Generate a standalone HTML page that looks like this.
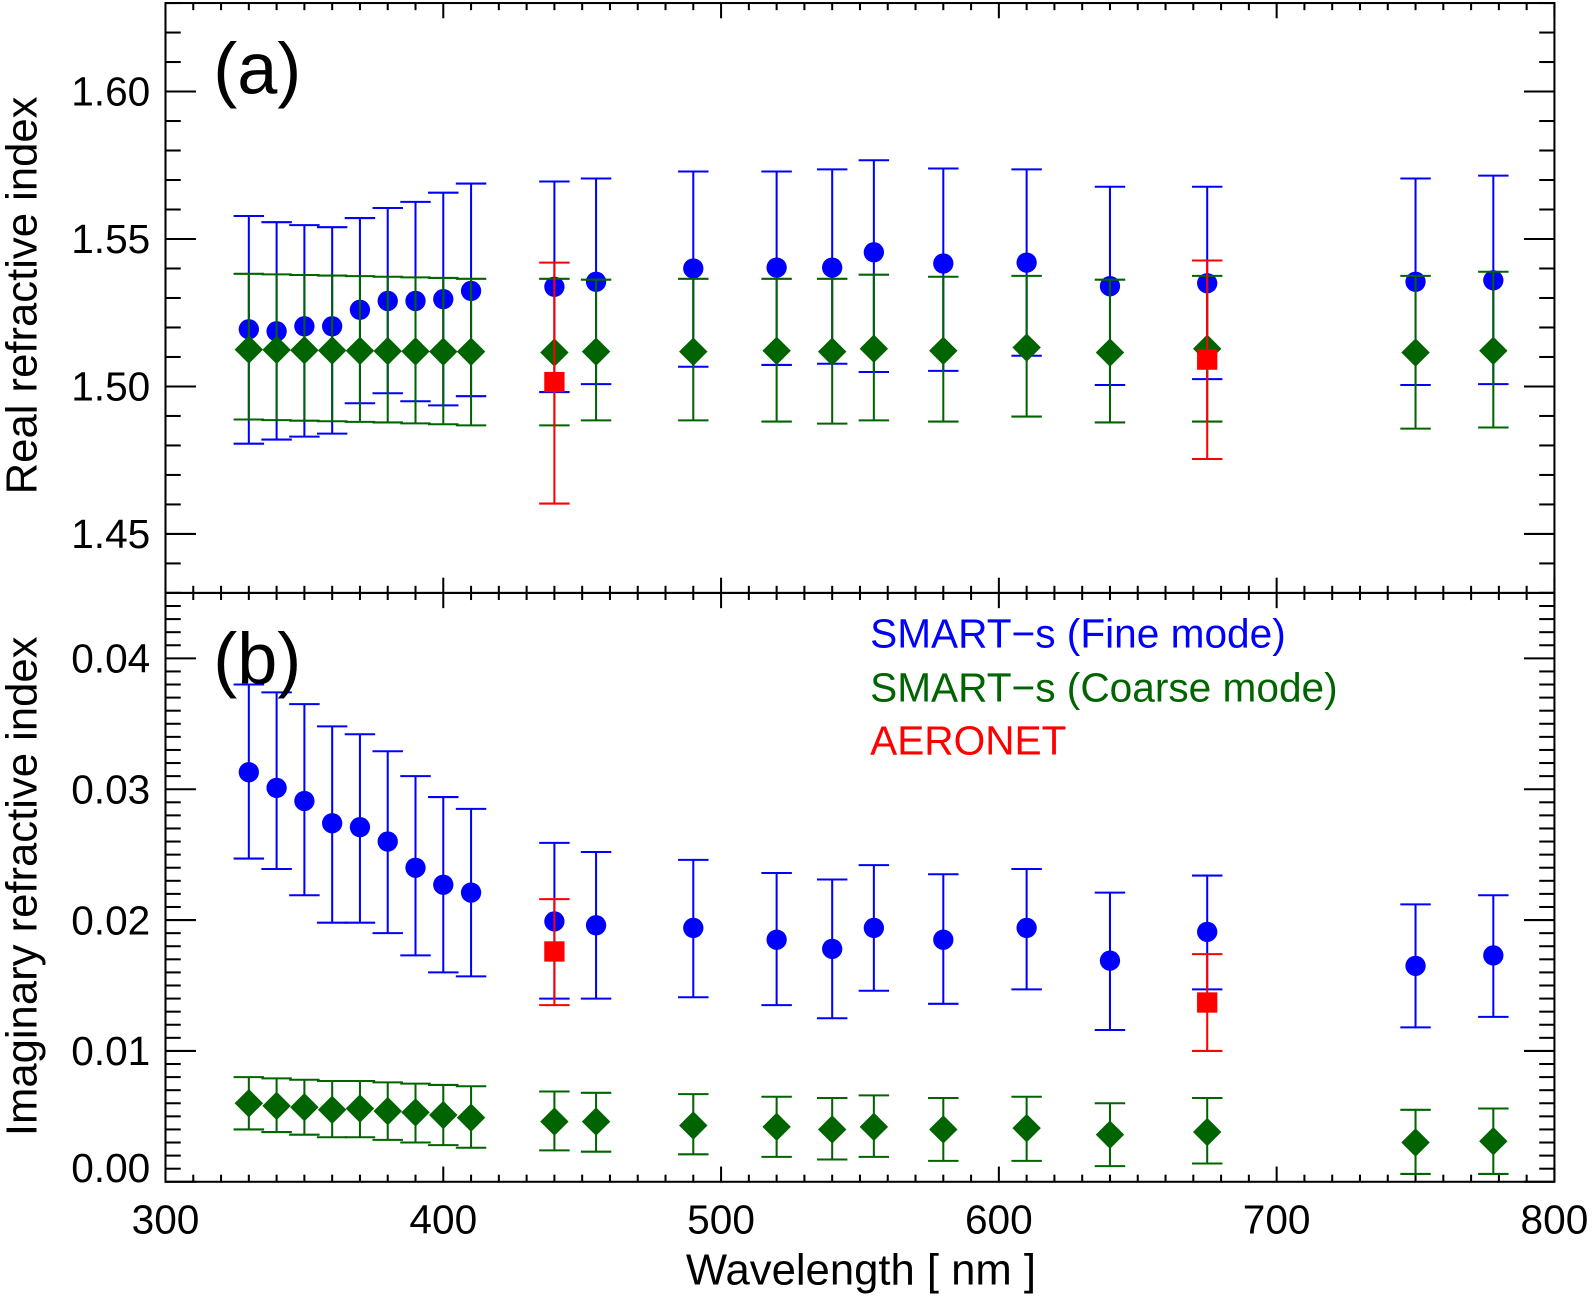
<!DOCTYPE html>
<html><head><meta charset="utf-8"><style>
html,body{margin:0;padding:0;background:#fff;}
svg{display:block;font-family:"Liberation Sans",Arial,sans-serif;}
</style></head><body>
<svg id="chart" width="1592" height="1296" viewBox="0 0 1568 1276.5" preserveAspectRatio="none" xmlns="http://www.w3.org/2000/svg"></svg>
<script>
const wl = [330,340,350,360,370,380,390,400,410,440,455,490,520,540,555,580,610,640,675,750,778];
// Panel (a) real refractive index
const fineReal   = [1.5194,1.5187,1.5204,1.5204,1.526,1.529,1.529,1.5296,1.5324,1.5338,1.5355,1.54,1.5403,1.5403,1.5455,1.5417,1.542,1.534,1.535,1.5355,1.536];
const fineRealHi = [1.5578,1.5557,1.5547,1.5540,1.5571,1.5605,1.5626,1.5657,1.5688,1.5695,1.5705,1.5729,1.5729,1.5736,1.5767,1.5739,1.5736,1.5677,1.5677,1.5705,1.5715];
const fineRealLo = [1.4806,1.4820,1.4830,1.4840,1.4943,1.4977,1.4950,1.4936,1.4967,1.4981,1.5008,1.5067,1.5073,1.5077,1.5049,1.5053,1.5104,1.5005,1.5025,1.5005,1.5008];
const coarseReal   = [1.5125,1.5124,1.5123,1.5122,1.5121,1.5120,1.5119,1.5118,1.5118,1.5115,1.5118,1.5118,1.5121,1.5118,1.5128,1.5121,1.5132,1.5115,1.5128,1.5115,1.5121];
const coarseRealHi = [1.5382,1.5380,1.5378,1.5376,1.5374,1.5372,1.5370,1.5368,1.5365,1.5365,1.5362,1.5365,1.5365,1.5365,1.5379,1.5372,1.5375,1.5362,1.5375,1.5375,1.5389];
const coarseRealLo = [1.4888,1.4886,1.4884,1.4882,1.4880,1.4878,1.4875,1.4872,1.4868,1.4868,1.4885,1.4885,1.4881,1.4874,1.4885,1.4881,1.4898,1.4878,1.4881,1.4857,1.4861];
const aeroWl = [440,675];
const aeroReal   = [1.5015,1.5091];
const aeroRealHi = [1.5420,1.5427];
const aeroRealLo = [1.4603,1.4754];
// Panel (b) imaginary refractive index
const fineImag   = [0.0313,0.0301,0.0291,0.0274,0.0271,0.0260,0.0240,0.0227,0.0221,0.0199,0.0196,0.0194,0.0185,0.0178,0.0194,0.0185,0.0194,0.0169,0.0191,0.0165,0.0173];
const fineImagHi = [0.0380,0.0374,0.0365,0.0348,0.0342,0.0329,0.0310,0.0294,0.0285,0.0259,0.0252,0.0246,0.0236,0.0231,0.0242,0.0235,0.0239,0.0221,0.0234,0.0212,0.0219];
const fineImagLo = [0.0247,0.0239,0.0219,0.0198,0.0198,0.0190,0.0173,0.0160,0.0157,0.0140,0.0140,0.0141,0.0135,0.0125,0.0146,0.0136,0.0147,0.0116,0.0147,0.0118,0.0126];
const coarseImag   = [0.0060,0.0058,0.0057,0.0055,0.0056,0.0054,0.0053,0.0051,0.0049,0.0046,0.0046,0.0043,0.0042,0.0040,0.0042,0.0040,0.0041,0.0036,0.0038,0.0030,0.0031];
const coarseImagHi = [0.0080,0.0079,0.0078,0.0077,0.0077,0.0076,0.0075,0.0074,0.0073,0.0069,0.0068,0.0067,0.0065,0.0064,0.0066,0.0064,0.0065,0.0060,0.0064,0.0055,0.0056];
const coarseImagLo = [0.0040,0.0038,0.0036,0.0034,0.0034,0.0032,0.0030,0.0028,0.0026,0.0024,0.0023,0.0021,0.0019,0.0017,0.0019,0.0016,0.0016,0.0012,0.0014,0.0006,0.0006];
const aeroImag   = [0.0176,0.0137];
const aeroImagHi = [0.0216,0.0174];
const aeroImagLo = [0.0135,0.0100];
const xTicks = [300,400,500,600,700,800];
const yTicksA = [1.45,1.50,1.55,1.60];
const yTicksB = [0.00,0.01,0.02,0.03,0.04];

const NS="http://www.w3.org/2000/svg";
const svg=document.getElementById('chart');
const L=163,R=1531;
const X=v=>L+(v-300)/500*(R-L);
const aTop=3,aBot=584,bTop=584,bBot=1164;
const YA=v=>aBot-(v-1.43)/0.20*(aBot-aTop);
const YB=v=>bBot-(v-0)/0.045*(bBot-bTop);
function el(tag,attrs,parent){const e=document.createElementNS(NS,tag);for(const k in attrs)e.setAttribute(k,attrs[k]);(parent||svg).appendChild(e);return e;}
function txt(s,attrs,parent){const t=el('text',attrs,parent);t.textContent=s;return t;}

function axes(top,bot,Y,y0,y1,minStep,majors,fmt,name,showX){
  const g=el('g',{});
  
  
  el('rect',{x:L,y:top,width:R-L,height:bot-top,fill:'none',stroke:'#000','stroke-width':2},g);
  for(let v=300;v<=800.001;v+=10){
    const maj=Math.abs(v%100)<0.01;const len=maj?15:7;const x=X(v);
    el('line',{x1:x,y1:bot,x2:x,y2:bot-len,stroke:'#000','stroke-width':2},g);
    el('line',{x1:x,y1:top,x2:x,y2:top+len,stroke:'#000','stroke-width':2},g);
  }
  const n=Math.round((y1-y0)/minStep);
  for(let i=0;i<=n;i++){const v=y0+i*minStep;
    const maj=majors.some(m=>Math.abs(m-v)<minStep/10);const len=maj?30:15;const y=Y(v);
    el('line',{x1:L,y1:y,x2:L+len,y2:y,stroke:'#000','stroke-width':2},g);
    el('line',{x1:R,y1:y,x2:R-len,y2:y,stroke:'#000','stroke-width':2},g);
  }
  majors.forEach(m=>{let y=Y(m)+14;if(y>bot-5)y=bot;
    const t=txt(fmt(m),{x:148,y:y,'font-size':40,'text-anchor':'end'},g);
    
    
  });
  if(showX){xTicks.forEach(v=>{
    const t=txt(String(v),{x:X(v),y:bot+51,'font-size':40,'text-anchor':'middle'},g);
    
    
  });}
}
axes(aTop,aBot,YA,1.43,1.63,0.01,yTicksA,v=>v.toFixed(2),'panel-a',false);
axes(bTop,bBot,YB,0,0.045,0.001,yTicksB,v=>v.toFixed(2),'panel-b',true);

function errbar(g,x,hi,lo,col,cap){
  el('line',{x1:x,y1:hi,x2:x,y2:lo,stroke:col,'stroke-width':2},g);
  el('line',{x1:x-cap,y1:hi,x2:x+cap,y2:hi,stroke:col,'stroke-width':2},g);
  el('line',{x1:x-cap,y1:lo,x2:x+cap,y2:lo,stroke:col,'stroke-width':2},g);
}
function series(name,xs,vals,his,los,Y,col,shape){
  const g=el('g',{});
  
  
  xs.forEach((w,i)=>{
    const x=X(w),y=Y(vals[i]);
    errbar(g,x,Y(his[i]),Y(los[i]),col,15);
    let m;
    if(shape==='circle')m=el('circle',{cx:x,cy:y,r:10,fill:col},g);
    else if(shape==='diamond')m=el('polygon',{points:`${x},${y-14} ${x+14},${y} ${x},${y+14} ${x-14},${y}`,fill:col},g);
    else m=el('rect',{x:x-10,y:y-10,width:20,height:20,fill:col},g);
    
    
  });
}
const blue='#0000ff',green='#006400',red='#ff0000';
series('fine-real',wl,fineReal,fineRealHi,fineRealLo,YA,blue,'circle');
series('coarse-real',wl,coarseReal,coarseRealHi,coarseRealLo,YA,green,'diamond');
series('aeronet-real',aeroWl,aeroReal,aeroRealHi,aeroRealLo,YA,red,'square');
series('fine-imag',wl,fineImag,fineImagHi,fineImagLo,YB,blue,'circle');
series('coarse-imag',wl,coarseImag,coarseImagHi,coarseImagLo,YB,green,'diamond');
series('aeronet-imag',aeroWl,aeroImag,aeroImagHi,aeroImagLo,YB,red,'square');

let t;
t=txt('(a)',{x:210,y:92,'font-size':71});

t=txt('(b)',{x:210,y:673,'font-size':71});

t=txt('SMART\u2212s (Fine mode)',{x:857,y:638,'font-size':40,fill:blue});

t=txt('SMART\u2212s (Coarse mode)',{x:857,y:691,'font-size':40,fill:green});

t=txt('AERONET',{x:857,y:743,'font-size':40,fill:red});

t=txt('Wavelength [ nm ]',{x:848,y:1265,'font-size':43,'text-anchor':'middle'});

t=txt('Real refractive index',{x:0,y:0,'font-size':43,'text-anchor':'middle',transform:'translate(36,291) rotate(-90)'});

t=txt('Imaginary refractive index',{x:0,y:0,'font-size':43,'text-anchor':'middle',transform:'translate(36,873) rotate(-90)'});

</script>
</body></html>
